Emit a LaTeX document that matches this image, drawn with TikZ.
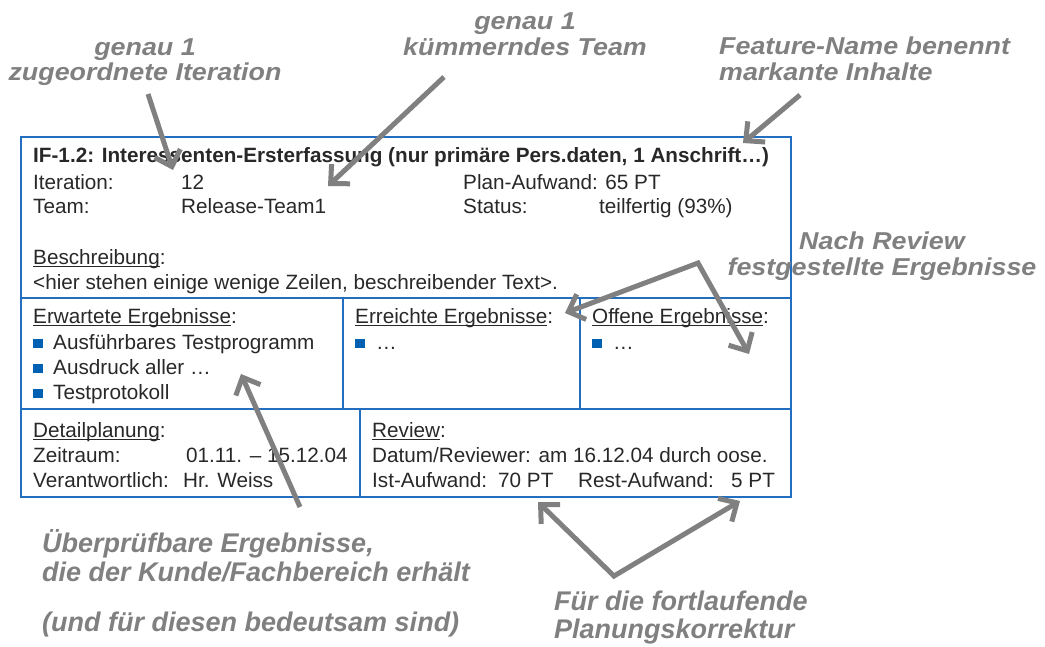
\documentclass[tikz,border=0pt]{standalone}
\usepackage{fontspec}
\setmainfont{Liberation Sans}
\newfontfamily\notefont[FakeStretch=1.1]{Liberation Sans}
\usetikzlibrary{arrows.meta}

\definecolor{frame}{RGB}{35,110,190}
\definecolor{bulletblue}{RGB}{0,97,178}
\definecolor{note}{RGB}{128,128,128}
\definecolor{ink}{RGB}{40,40,40}

% underline that sits just below the baseline
\newcommand\ulx[1]{\setbox0\hbox{#1}\rlap{\rule[-3pt]{\wd0}{1.3pt}}\box0}
% square blue bullet
\newcommand\sqb{\textcolor{bulletblue}{\rule[1pt]{10pt}{9.5pt}}}

\tikzset{
  txt/.style={anchor=base west, inner sep=0pt, text=ink,
    font=\fontsize{20.7pt}{25pt}\selectfont},
  ttl/.style={txt, font=\fontsize{20.7pt}{25pt}\selectfont\bfseries},
  cell/.style={draw=frame, line width=1.4pt},
  note/.style={anchor=base, inner sep=0pt, text=note,
    font=\notefont\bfseries\itshape\fontsize{24.4pt}{26pt}\selectfont},
  notel/.style={note, anchor=base west},
  noteb/.style={anchor=base west, inner sep=0pt, text=note,
    font=\bfseries\itshape\fontsize{27pt}{29pt}\selectfont},
  ptr/.style={draw=note, line width=5pt,
    -{Straight Barb[length=14pt,width=27pt]}},
  ptrs/.style={draw=note, line width=5pt,
    {Straight Barb[length=14pt,width=27pt]}-{Straight Barb[length=14pt,width=27pt]}},
}

\begin{document}
\begin{tikzpicture}[x=1pt,y=-1pt]
\useasboundingbox (0,0) rectangle (1045,646);

% ---- feature card frame ----
\draw[cell] (21,137) rectangle (791,497);
\draw[cell] (21,298) -- (791,298);
\draw[cell] (21,409) -- (791,409);
\draw[cell] (343,298) -- (343,409);
\draw[cell] (580,298) -- (580,409);
\draw[cell] (360,409) -- (360,497);

% ---- header section ----
\node[ttl] (title) at (33,162) {IF-1.2: Interessenten-Ersterfassung (nur primäre Pers.daten, 1 Anschrift…)};
\node[txt] (itK) at (33,189) {Iteration:};
\node[txt] (itV) at (181,189) {12};
\node[txt] (plan) at (463,189) {Plan-Aufwand: 65 PT};
\node[txt] (teamK) at (33,213) {Team:};
\node[txt] (teamV) at (181,213) {Release-Team1};
\node[txt] (statK) at (463,213) {Status:};
\node[txt] (statV) at (599,213) {teilfertig (93\%)};
\node[txt] (descK) at (33,264) {\ulx{Beschreibung}:};
\node[txt] (descV) at (33,289) {<hier stehen einige wenige Zeilen, beschreibender Text>.};

% ---- results section ----
\node[txt] (expK) at (33,323) {\ulx{Erwartete Ergebnisse}:};
\node[txt] (exp1) at (33,349) {\sqb\hspace{10pt}Ausführbares Testprogramm};
\node[txt] (exp2) at (33,374) {\sqb\hspace{10pt}Ausdruck aller …};
\node[txt] (exp3) at (33,399) {\sqb\hspace{10pt}Testprotokoll};
\node[txt] (achK) at (355,323) {\ulx{Erreichte Ergebnisse}:};
\node[txt] (ach1) at (355,349) {\sqb\hspace{11pt}…};
\node[txt] (opnK) at (592,323) {\ulx{Offene Ergebnisse}:};
\node[txt] (opn1) at (592,349) {\sqb\hspace{11pt}…};

% ---- planning / review section ----
\node[txt] (detK) at (33,437) {\ulx{Detailplanung}:};
\node[txt] (zeitK) at (33,462) {Zeitraum:};
\node[txt] (zeitV) at (186,462) {01.11. – 15.12.04};
\node[txt] (verK) at (33,487) {Verantwortlich:};
\node[txt] (verV) at (183,487) {Hr. Weiss};
\node[txt] (revK) at (372,437) {\ulx{Review}:};
\node[txt] (revD) at (372,462) {Datum/Reviewer: am 16.12.04 durch oose.};
\node[txt] (istK) at (372,487) {Ist-Aufwand:};
\node[txt] (istV) at (498,487) {70 PT};
\node[txt] (restK) at (578,487) {Rest-Aufwand:};
\node[txt] (restV) at (731,487) {5 PT};

% ---- annotations ----
\node[note] (iterA) at (145,55) {genau 1};
\node[note] (iterB) at (145,80.7) {zugeordnete Iteration};
\node[note] (teamA) at (525,29) {genau 1};
\node[note] (teamB) at (525,55) {kümmerndes Team};
\node[notel] (featA) at (719,54.5) {Feature-Name benennt};
\node[notel] (featB) at (719,80) {markante Inhalte};
\node[note] (revA) at (882,249.5) {Nach Review};
\node[note] (revB) at (882,275.5) {festgestellte Ergebnisse};
\node[noteb] (chkA) at (42,552) {Überprüfbare Ergebnisse,};
\node[noteb] (chkB) at (42,581) {die der Kunde/Fachbereich erhält};
\node[noteb] (chkC) at (42,631) {(und für diesen bedeutsam sind)};
\node[noteb] (plnA) at (554,610) {Für die fortlaufende};
\node[noteb] (plnB) at (554,638) {Planungskorrektur};

% ---- pointer arrows ----
\coordinate (iterT) at (148,94);  \coordinate (iterH) at (173,170);
\coordinate (teamT) at (444,77);  \coordinate (teamH) at (328,186);
\coordinate (featT) at (800,95);  \coordinate (featH) at (743,143);
\coordinate (revL) at (565,313);  \coordinate (revV) at (698,263);  \coordinate (revR) at (749,354);
\coordinate (chkT) at (300,507);  \coordinate (chkH) at (241,374);
\coordinate (plnL) at (538,502);  \coordinate (plnV) at (614,576);  \coordinate (plnR) at (740,501);

\draw[ptr] (iterT) -- (iterH);
\draw[ptr] (teamT) -- (teamH);
\draw[ptr] (featT) -- (featH);
\draw[ptrs] (revL) -- (revV) -- (revR);
\draw[ptr] (chkT) -- (chkH);
\draw[ptrs] (plnL) -- (plnV) -- (plnR);
\end{tikzpicture}
\end{document}
